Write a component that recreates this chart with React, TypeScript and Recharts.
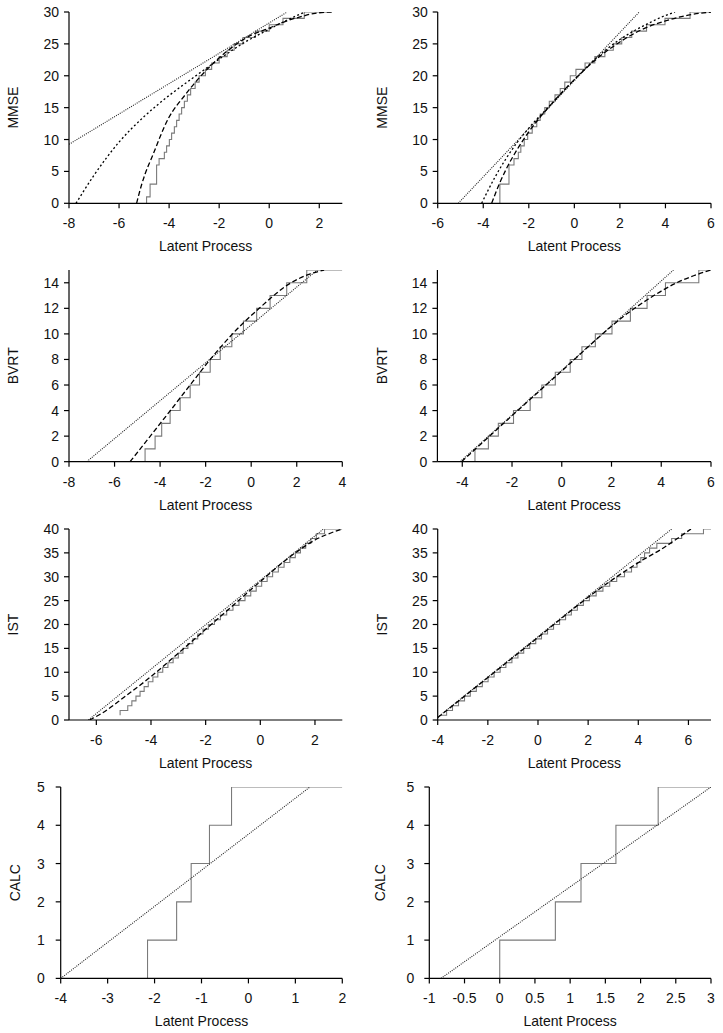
import React from 'react';
import { LineChart, Line, XAxis, YAxis } from 'recharts';

// ---------- MMSE (left model) ----------
const mmseAStepX = [-4.9, -4.9, -4.76, -4.5, -4.4, -4.19, -4.1, -3.99, -3.9, -3.79, -3.7, -3.6, -3.5, -3.39, -3.27, -3.14, -2.96, -2.8, -2.55, -2.3, -2.0, -1.68, -1.4, -1.05, -0.55, 0.0, 0.55, 1.4, 2.45];
const mmseAStepY = [0, 1, 3, 6, 7, 8, 9, 10, 11, 12, 13, 14, 15, 16, 17, 18, 19, 20, 21, 22, 23, 24, 25, 26, 27, 28, 29, 30, 30];
const mmseALinX = [-8, 0.72];
const mmseALinY = [9.25, 30];
const mmseAShortX = [-7.72, -7.0, -6.0, -5.0, -4.0, -3.0, -2.0, -1.0, 0.0, 0.7, 1.43];
const mmseAShortY = [0, 4.4, 9.6, 13.6, 16.9, 19.8, 22.6, 25.2, 27.3, 28.7, 30];
const mmseALongX = [-5.3, -5.1, -4.96, -4.7, -4.03, -3.36, -2.7, -2.03, -1.37, -0.7, -0.04, 0.63, 1.3, 1.83, 2.5];
const mmseALongY = [0, 2.9, 4.6, 7.1, 13.3, 17.0, 20.1, 22.7, 24.8, 26.4, 27.4, 28.5, 29.3, 29.8, 30];

// ---------- MMSE (right model) ----------
const mmseBStepX = [-3.27, -3.27, -2.87, -2.65, -2.46, -2.35, -2.2, -2.05, -1.85, -1.65, -1.5, -1.3, -1.1, -0.85, -0.62, -0.42, -0.18, 0.07, 0.47, 0.9, 1.34, 1.71, 2.08, 2.52, 3.17, 3.98, 5.08, 6.0];
const mmseBStepY = [0, 3, 6, 7, 8, 9, 10, 11, 12, 13, 14, 15, 16, 17, 18, 19, 20, 21, 22, 23, 24, 25, 26, 27, 28, 29, 30, 30];
const mmseBLinX = [-5.1, 2.85];
const mmseBLinY = [0, 30];
const mmseBShortX = [-4.07, -3.5, -3.0, -2.5, -2.0, -1.0, 0.0, 1.0, 2.0, 2.5, 3.24, 3.83, 4.42];
const mmseBShortY = [0, 4.0, 7.0, 9.6, 11.8, 15.6, 19.4, 22.9, 25.7, 26.8, 28.2, 29.2, 30];
const mmseBLongX = [-3.63, -3.3, -3.0, -2.5, -2.0, -1.0, 0.0, 1.0, 2.0, 3.0, 4.0, 5.0, 6.0];
const mmseBLongY = [0, 3.0, 5.3, 8.5, 11.2, 15.6, 19.4, 22.7, 25.3, 27.3, 28.6, 29.5, 30];

// ---------- BVRT ----------
const bvrtAStepX = [-4.66, -4.66, -4.22, -3.93, -3.56, -3.12, -2.68, -2.27, -1.8, -1.36, -0.85, -0.34, 0.24, 0.83, 1.56, 2.44, 4.0];
const bvrtAStepY = [0, 1, 2, 3, 4, 5, 6, 7, 8, 9, 10, 11, 12, 13, 14, 15, 15];
const bvrtALinX = [-7.22, 2.9];
const bvrtALinY = [0, 15];
const bvrtALongX = [-5.32, -4.43, -3.55, -2.68, -1.8, -0.82, 0.35, 1.75, 2.6, 3.2];
const bvrtALongY = [0, 2, 4, 6, 8, 10, 12, 14, 14.7, 15];

const bvrtBStepX = [-3.49, -3.49, -2.95, -2.55, -1.94, -1.27, -0.8, -0.26, 0.34, 0.81, 1.35, 2.02, 2.76, 3.43, 4.17, 5.51, 6.0];
const bvrtBStepY = [0, 1, 2, 3, 4, 5, 6, 7, 8, 9, 10, 11, 12, 13, 14, 15, 15];
const bvrtBLinX = [-4.09, 4.49];
const bvrtBLinY = [0, 15];
const bvrtBLongX = [-4.03, -2, 0, 2, 2.6, 3.0, 3.42, 4.0, 4.62, 5.3, 6.0];
const bvrtBLongY = [0, 3.6, 7.1, 10.6, 11.55, 12.1, 12.65, 13.35, 14.0, 14.55, 15.0];

// ---------- IST ----------
const istAStepX = [-5.13, -5.13, -4.85, -4.7, -4.55, -4.4, -4.25, -4.1, -3.93, -3.75, -3.57, -3.38, -3.19, -3.0, -2.83, -2.65, -2.47, -2.29, -2.1, -1.9, -1.68, -1.46, -1.23, -1.0, -0.78, -0.56, -0.35, -0.15, 0.05, 0.25, 0.45, 0.66, 0.87, 1.08, 1.28, 1.47, 1.66, 1.85, 2.05, 2.35, 3.0];
const istAStepY = [1, 2, 3, 4, 5, 6, 7, 8, 9, 10, 11, 12, 13, 14, 15, 16, 17, 18, 19, 20, 21, 22, 23, 24, 25, 26, 27, 28, 29, 30, 31, 32, 33, 34, 35, 36, 37, 38, 39, 40, 40];
const istALinX = [-6.29, 2.31];
const istALinY = [0, 40];
const istALongX = [-6.25, -5.8, -5.0, -4.0, -3.0, -2.0, -1.0, 0.0, 1.0, 1.5, 2.0, 2.5, 3.0];
const istALongY = [0, 1.4, 4.7, 9.1, 14.0, 19.0, 24.0, 29.0, 33.8, 35.9, 37.7, 39.0, 40];

const istBStepX = [-3.88, -3.645, -3.41, -3.17, -2.93, -2.7, -2.46, -2.22, -1.99, -1.75, -1.51, -1.28, -1.04, -0.8, -0.57, -0.33, -0.09, 0.14, 0.38, 0.62, 0.86, 1.1, 1.33, 1.57, 1.81, 2.05, 2.32, 2.59, 2.86, 3.14, 3.45, 3.73, 3.95, 4.1, 4.25, 4.45, 4.74, 5.33, 5.73, 6.6, 6.9];
const istBStepY = [1, 2, 3, 4, 5, 6, 7, 8, 9, 10, 11, 12, 13, 14, 15, 16, 17, 18, 19, 20, 21, 22, 23, 24, 25, 26, 27, 28, 29, 30, 31, 32, 33, 34, 35, 36, 37, 38, 39, 40, 40];
const istBLinX = [-4.0, 5.33];
const istBLinY = [0.56, 40];
const istBLongX = [-4.0, -2.0, 0.0, 2.0, 3.0, 3.54, 4.2, 4.87, 5.5, 6.1];
const istBLongY = [0.5, 8.9, 17.3, 25.7, 29.5, 31.4, 33.6, 35.6, 37.8, 40];

// ---------- CALC ----------
const calcAStepX = [-2.15, -2.15, -1.53, -1.22, -0.83, -0.36, 2.0];
const calcAStepY = [0, 1, 2, 3, 4, 5, 5];
const calcALinX = [-4, 1.31];
const calcALinY = [0, 5];

const calcBStepX = [0.0, 0.0, 0.79, 1.154, 1.65, 2.25, 3.0];
const calcBStepY = [0, 1, 2, 3, 4, 5, 5];
const calcBLinX = [-0.834, 3.0];
const calcBLinY = [0, 5];

// ---------- axes ----------
const ticksMmseAX = [-8, -6, -4, -2, 0, 2];
const ticksMmseBX = [-6, -4, -2, 0, 2, 4, 6];
const ticksBvrtAX = [-8, -6, -4, -2, 0, 2, 4];
const ticksBvrtBX = [-4, -2, 0, 2, 4, 6];
const ticksIstAX = [-6, -4, -2, 0, 2];
const ticksIstBX = [-4, -2, 0, 2, 4, 6];
const ticksCalcAX = [-4, -3, -2, -1, 0, 1, 2];
const ticksCalcBX = [-1, -0.5, 0, 0.5, 1, 1.5, 2, 2.5, 3];
const ticksMmseY = [0, 5, 10, 15, 20, 25, 30];
const ticksBvrtY = [0, 2, 4, 6, 8, 10, 12, 14];
const ticksIstY = [0, 5, 10, 15, 20, 25, 30, 35, 40];
const ticksCalcY = [0, 1, 2, 3, 4, 5];

const pts = (xs: number[], ys: number[]) => xs.map((x, i) => ({ x, y: ys[i] }));

const FONT = "'Liberation Sans', Arial, Helvetica, sans-serif";

type Series = { data: { x: number; y: number }[]; kind: 'step' | 'lin' | 'short' | 'long' };

const panels = [
  { name: 'MMSE', xDomain: [-8, 2.92], xTicks: ticksMmseAX, yDomain: [0, 30], yTicks: ticksMmseY,
    series: [
      { data: pts(mmseAStepX, mmseAStepY), kind: 'step' },
      { data: pts(mmseALinX, mmseALinY), kind: 'lin' },
      { data: pts(mmseAShortX, mmseAShortY), kind: 'short' },
      { data: pts(mmseALongX, mmseALongY), kind: 'long' },
    ] as Series[] },
  { name: 'MMSE', xDomain: [-6, 6], xTicks: ticksMmseBX, yDomain: [0, 30], yTicks: ticksMmseY,
    series: [
      { data: pts(mmseBStepX, mmseBStepY), kind: 'step' },
      { data: pts(mmseBLinX, mmseBLinY), kind: 'lin' },
      { data: pts(mmseBShortX, mmseBShortY), kind: 'short' },
      { data: pts(mmseBLongX, mmseBLongY), kind: 'long' },
    ] as Series[] },
  { name: 'BVRT', xDomain: [-8, 4], xTicks: ticksBvrtAX, yDomain: [0, 15], yTicks: ticksBvrtY,
    series: [
      { data: pts(bvrtAStepX, bvrtAStepY), kind: 'step' },
      { data: pts(bvrtALinX, bvrtALinY), kind: 'lin' },
      { data: pts(bvrtALongX, bvrtALongY), kind: 'long' },
    ] as Series[] },
  { name: 'BVRT', xDomain: [-5, 6], xTicks: ticksBvrtBX, yDomain: [0, 15], yTicks: ticksBvrtY,
    series: [
      { data: pts(bvrtBStepX, bvrtBStepY), kind: 'step' },
      { data: pts(bvrtBLinX, bvrtBLinY), kind: 'lin' },
      { data: pts(bvrtBLongX, bvrtBLongY), kind: 'long' },
    ] as Series[] },
  { name: 'IST', xDomain: [-7, 3], xTicks: ticksIstAX, yDomain: [0, 40], yTicks: ticksIstY,
    series: [
      { data: pts(istAStepX, istAStepY), kind: 'step' },
      { data: pts(istALinX, istALinY), kind: 'lin' },
      { data: pts(istALongX, istALongY), kind: 'long' },
    ] as Series[] },
  { name: 'IST', xDomain: [-4, 6.9], xTicks: ticksIstBX, yDomain: [0, 40], yTicks: ticksIstY,
    series: [
      { data: pts(istBStepX, istBStepY), kind: 'step' },
      { data: pts(istBLinX, istBLinY), kind: 'lin' },
      { data: pts(istBLongX, istBLongY), kind: 'long' },
    ] as Series[] },
  { name: 'CALC', xDomain: [-4, 2], xTicks: ticksCalcAX, yDomain: [0, 5], yTicks: ticksCalcY,
    series: [
      { data: pts(calcAStepX, calcAStepY), kind: 'step' },
      { data: pts(calcALinX, calcALinY), kind: 'lin' },
    ] as Series[] },
  { name: 'CALC', xDomain: [-1, 3], xTicks: ticksCalcBX, yDomain: [0, 5], yTicks: ticksCalcY,
    series: [
      { data: pts(calcBStepX, calcBStepY), kind: 'step' },
      { data: pts(calcBLinX, calcBLinY), kind: 'lin' },
    ] as Series[] },
];

const layouts = [
  { left: 0, top: 3.7, width: 350, yw: 69, mr: 7.7, plotH: 191.3, labX: 13.3, ytm: 5 },
  { left: 360, top: 3.7, width: 363, yw: 77.7, mr: 12, plotH: 191.3, labX: 21.7, ytm: 5 },
  { left: 0, top: 262, width: 350, yw: 69, mr: 7.7, plotH: 191.7, labX: 13.3, ytm: 5 },
  { left: 360, top: 262, width: 363, yw: 77.4, mr: 12, plotH: 191.7, labX: 21.7, ytm: 5 },
  { left: 0, top: 521, width: 350, yw: 69, mr: 7.7, plotH: 191, labX: 13.3, ytm: 5 },
  { left: 360, top: 521, width: 363, yw: 77.7, mr: 12, plotH: 191, labX: 21.7, ytm: 5 },
  { left: 0, top: 779.3, width: 350, yw: 60.7, mr: 7.7, plotH: 191.4, labX: 15, ytm: 11 },
  { left: 360, top: 779.3, width: 363, yw: 69.3, mr: 12, plotH: 191.4, labX: 20, ytm: 10 },
];

const styleFor = (kind: string) => {
  if (kind === 'step') return { stroke: '#7a7a7a', strokeWidth: 1.1, type: 'stepAfter' as const };
  if (kind === 'lin') return { stroke: '#222', strokeWidth: 1.1, strokeDasharray: '1 1.2', type: 'linear' as const };
  if (kind === 'short') return { stroke: '#000', strokeWidth: 1.3, strokeDasharray: '2 2.4', type: 'monotone' as const };
  return { stroke: '#000', strokeWidth: 1.3, strokeDasharray: '5 2.6', type: 'monotone' as const };
};

const TOP = 8;
const XH = 52;

function Panel({ cfg, lay }: any) {
  const { left, top, width, yw, mr, plotH, labX, ytm } = lay;
  const height = plotH + TOP + XH;
  const plotW = width - yw - mr;
  const cy = TOP + plotH / 2;
  const xl = yw + plotW / 2;
  const yl = TOP + plotH + 43;
  return (
    <div style={{ position: 'absolute', left, top, width, height }}>
      <LineChart width={width} height={height} margin={{ top: TOP, right: mr, bottom: 0, left: 0 }}>
        <XAxis
          type="number"
          dataKey="x"
          domain={cfg.xDomain}
          ticks={cfg.xTicks}
          interval={0}
          allowDataOverflow
          height={XH}
          tickSize={5}
          tickMargin={10}
          axisLine={{ stroke: '#000', strokeWidth: 1.2 }}
          tickLine={{ stroke: '#000', strokeWidth: 1.2 }}
          tick={{ fill: '#111', fontSize: 14, fontFamily: FONT }}
          label={() => (
            <text x={xl} y={yl} textAnchor="middle" dominantBaseline="central" fontSize={14} fontFamily={FONT} fill="#111">
              Latent Process
            </text>
          )}
        />
        <YAxis
          type="number"
          dataKey="y"
          domain={cfg.yDomain}
          ticks={cfg.yTicks}
          interval={0}
          allowDataOverflow
          width={yw}
          tickSize={5}
          tickMargin={ytm}
          axisLine={{ stroke: '#000', strokeWidth: 1.2 }}
          tickLine={{ stroke: '#000', strokeWidth: 1.2 }}
          tick={{ fill: '#111', fontSize: 14, fontFamily: FONT }}
          label={() => (
            <text x={labX} y={cy} transform={`rotate(-90 ${labX} ${cy})`} textAnchor="middle" dominantBaseline="central" fontSize={14} fontFamily={FONT} fill="#111">
              {cfg.name}
            </text>
          )}
        />
        {cfg.series.map((s: Series, i: number) => {
          const st = styleFor(s.kind);
          return (
            <Line
              key={i}
              data={s.data}
              dataKey="y"
              type={st.type}
              stroke={st.stroke}
              strokeWidth={st.strokeWidth}
              strokeDasharray={(st as any).strokeDasharray}
              dot={false}
              activeDot={false}
              isAnimationActive={false}
            />
          );
        })}
      </LineChart>
    </div>
  );
}

export default function App() {
  return (
    <div style={{ position: 'absolute', left: 0, top: 0, width: 723, height: 1033, overflow: 'hidden', background: '#fff' }}>
      {panels.map((p, i) => (
        <Panel key={i} cfg={p} lay={layouts[i]} />
      ))}
    </div>
  );
}
